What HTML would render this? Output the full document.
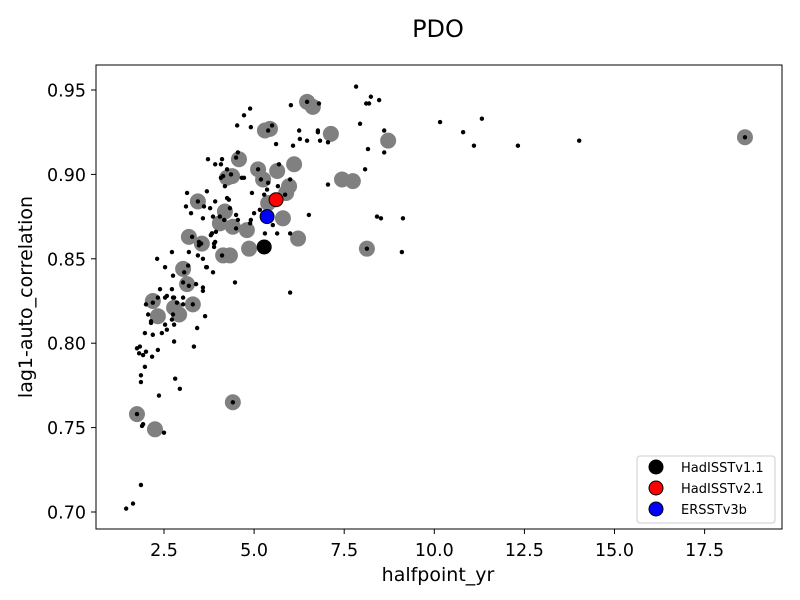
<!DOCTYPE html>
<html><head><meta charset="utf-8">
<style>
html,body{margin:0;padding:0;background:#fff;}
svg{display:block;font-family:"DejaVu Sans","Liberation Sans",sans-serif;}
</style></head>
<body>
<svg id="chart" width="800" height="600" viewBox="0 0 800 600">
<rect x="0" y="0" width="800" height="600" fill="#fff"/>
<text x="438" y="37" font-size="24" text-anchor="middle">PDO</text>
<g id="marks"></g>
<rect x="96" y="65" width="686" height="464" fill="none" stroke="#000" stroke-width="1"/>
<g id="axes"></g>
<text x="438" y="581" font-size="19" text-anchor="middle">halfpoint_yr</text>
<text transform="translate(32,297) rotate(-90)" font-size="19" text-anchor="middle">lag1-auto_correlation</text>
<g>
<rect x="637" y="456" width="138" height="67" rx="3" fill="#fff" stroke="#ccc"/>
<g><circle cx="656" cy="467" r="7" fill="#000" stroke="#000"/><text x="681" y="472" font-size="13">HadISSTv1.1</text></g>
<g><circle cx="656" cy="488" r="7" fill="#f00" stroke="#000"/><text x="681" y="493" font-size="13">HadISSTv2.1</text></g>
<g><circle cx="656" cy="509" r="7" fill="#00f" stroke="#000"/><text x="681" y="514" font-size="13">ERSSTv3b</text></g>
</g>
</svg>
<script>
const xTicks = [2.5, 5.0, 7.5, 10.0, 12.5, 15.0, 17.5];
const xTickLabels = ["2.5","5.0","7.5","10.0","12.5","15.0","17.5"];
const yTicks = [0.70, 0.75, 0.80, 0.85, 0.90, 0.95];
const yTickLabels = ["0.70","0.75","0.80","0.85","0.90","0.95"];
const grayX = [6.47,6.63,5.30,5.44,7.13,8.72,4.58,5.11,5.64,6.11,4.25,4.39,5.25,5.97,5.89,7.44,7.74,5.39,5.80,4.19,3.44,4.05,4.41,4.80,6.22,4.86,4.14,4.33,8.13,3.55,3.19,3.03,3.14,2.19,2.33,2.78,2.92,3.30,4.41,1.75,2.25,18.62];
const grayY = [0.943,0.940,0.926,0.927,0.924,0.920,0.909,0.903,0.902,0.906,0.898,0.899,0.897,0.893,0.889,0.897,0.896,0.883,0.874,0.878,0.884,0.871,0.869,0.867,0.862,0.856,0.852,0.852,0.856,0.859,0.863,0.844,0.835,0.825,0.816,0.821,0.817,0.823,0.765,0.758,0.749,0.922];
const dotX = [7.83,8.24,8.47,8.11,8.19,6.02,6.47,6.80,4.89,4.72,4.53,4.91,5.50,5.39,6.25,6.77,6.77,7.94,8.61,6.27,6.47,6.83,7.05,5.61,6.08,8.16,8.61,4.55,3.72,4.50,4.11,3.92,4.08,5.69,5.11,8.08,4.25,4.08,4.14,4.36,4.72,4.66,5.19,6.00,5.39,4.19,5.36,4.94,5.66,7.05,3.69,4.25,4.30,3.92,5.86,5.28,3.61,3.78,4.33,5.16,5.00,3.86,4.05,4.50,3.58,4.17,4.55,4.91,4.89,6.52,8.41,8.52,9.13,5.52,4.50,3.94,3.83,5.30,5.64,6.00,3.89,3.53,3.89,8.13,9.10,4.11,3.58,3.67,3.86,4.47,3.58,3.58,6.00,3.14,3.11,3.25,3.44,3.83,3.80,3.92,3.28,3.47,3.47,2.72,3.19,3.44,2.31,2.53,3.17,3.69,2.75,3.06,3.03,3.19,3.39,2.39,2.72,2.75,2.53,3.03,2.00,2.19,2.33,2.58,2.78,2.86,3.03,3.30,2.06,2.14,2.14,2.53,2.72,2.78,2.75,3.64,3.42,2.58,2.44,2.19,1.97,2.78,1.75,1.83,2.00,2.33,1.81,1.92,2.17,3.33,1.97,1.86,1.86,2.81,2.94,2.36,4.41,1.75,1.92,1.89,2.50,1.86,1.64,1.45,10.16,10.80,11.10,11.32,12.32,14.02,18.62];
const dotY = [0.952,0.946,0.944,0.942,0.942,0.941,0.943,0.942,0.939,0.935,0.929,0.928,0.929,0.926,0.926,0.926,0.925,0.930,0.926,0.921,0.920,0.920,0.919,0.918,0.917,0.915,0.913,0.913,0.909,0.910,0.909,0.906,0.906,0.906,0.903,0.903,0.903,0.898,0.899,0.900,0.898,0.898,0.897,0.897,0.895,0.893,0.891,0.889,0.893,0.894,0.890,0.886,0.885,0.884,0.888,0.888,0.881,0.880,0.880,0.879,0.877,0.875,0.875,0.876,0.874,0.873,0.873,0.873,0.871,0.876,0.875,0.874,0.874,0.870,0.868,0.866,0.865,0.865,0.865,0.865,0.859,0.859,0.857,0.856,0.854,0.852,0.850,0.845,0.842,0.836,0.833,0.831,0.830,0.889,0.881,0.877,0.884,0.865,0.864,0.860,0.863,0.860,0.858,0.854,0.854,0.852,0.850,0.845,0.846,0.845,0.840,0.842,0.836,0.834,0.835,0.832,0.832,0.827,0.827,0.827,0.823,0.824,0.827,0.828,0.827,0.824,0.823,0.823,0.817,0.813,0.812,0.811,0.814,0.811,0.817,0.816,0.809,0.808,0.806,0.805,0.806,0.801,0.797,0.798,0.795,0.796,0.794,0.793,0.792,0.798,0.786,0.781,0.777,0.779,0.773,0.769,0.765,0.758,0.752,0.751,0.747,0.716,0.705,0.702,0.931,0.925,0.917,0.933,0.917,0.920,0.922];
const refNames = ["HadISSTv1.1","HadISSTv2.1","ERSSTv3b"];
const refX = [5.28, 5.61, 5.36];
const refY = [0.857, 0.885, 0.875];
const refColors = ["#000000","#ff0000","#0000ff"];

const NS = "http://www.w3.org/2000/svg";
function xScale(v){ return 164 + (v - 2.5) * 36.04; }
function yScale(v){ return 90 + (0.95 - v) * 1688; }

const marks = document.getElementById('marks');
const axes = document.getElementById('axes');

grayX.forEach((x, i) => {
  const c = document.createElementNS(NS, 'circle');
  c.setAttribute('cx', xScale(x)); c.setAttribute('cy', yScale(grayY[i]));
  c.setAttribute('r', 8); c.setAttribute('fill', '#808080');
  
  
  marks.appendChild(c);
});
dotX.forEach((x, i) => {
  const c = document.createElementNS(NS, 'circle');
  c.setAttribute('cx', xScale(x)); c.setAttribute('cy', yScale(dotY[i]));
  c.setAttribute('r', 2.2); c.setAttribute('fill', '#000');
  
  
  marks.appendChild(c);
});
refX.forEach((x, i) => {
  const c = document.createElementNS(NS, 'circle');
  c.setAttribute('cx', xScale(x)); c.setAttribute('cy', yScale(refY[i]));
  c.setAttribute('r', 7); c.setAttribute('fill', refColors[i]);
  c.setAttribute('stroke', '#000'); c.setAttribute('stroke-width', '1');
  
  
  marks.appendChild(c);
});
xTicks.forEach((t, i) => {
  const px = xScale(t);
  const l = document.createElementNS(NS, 'line');
  l.setAttribute('x1', px); l.setAttribute('x2', px); l.setAttribute('y1', 529); l.setAttribute('y2', 534);
  l.setAttribute('stroke', '#000');
  
  
  axes.appendChild(l);
  const tx = document.createElementNS(NS, 'text');
  tx.setAttribute('x', px); tx.setAttribute('y', 556); tx.setAttribute('font-size', '17.5');
  tx.setAttribute('text-anchor', 'middle'); tx.textContent = xTickLabels[i];
  
  
  axes.appendChild(tx);
});
yTicks.forEach((t, i) => {
  const py = yScale(t);
  const l = document.createElementNS(NS, 'line');
  l.setAttribute('x1', 91); l.setAttribute('x2', 96); l.setAttribute('y1', py); l.setAttribute('y2', py);
  l.setAttribute('stroke', '#000');
  
  
  axes.appendChild(l);
  const tx = document.createElementNS(NS, 'text');
  tx.setAttribute('x', 86); tx.setAttribute('y', py + 6.5); tx.setAttribute('font-size', '17.5');
  tx.setAttribute('text-anchor', 'end'); tx.textContent = yTickLabels[i];
  
  
  axes.appendChild(tx);
});
</script>
</body></html>
